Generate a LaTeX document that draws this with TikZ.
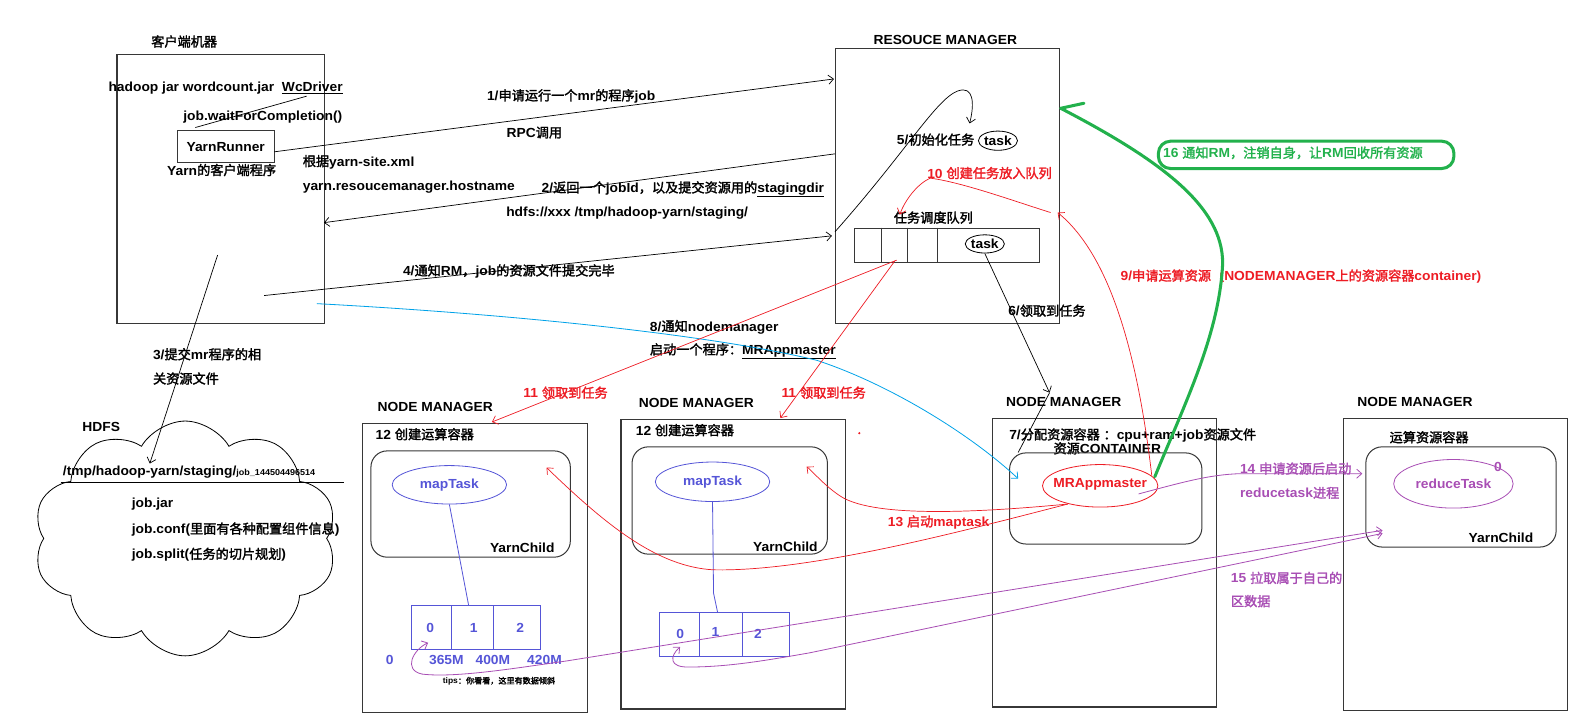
\documentclass[tikz,border=0pt]{standalone}
\usepackage{fontspec}
\setmainfont{Liberation Sans}[FakeStretch=1.05]
\newfontfamily\cjkfont{Noto Sans CJK SC}[BoldFont={Noto Sans CJK SC}, BoldFeatures={FakeBold=2}]
\usetikzlibrary{shapes.geometric,shapes.symbols,arrows.meta}

% switch to the CJK font for Chinese characters and back for Latin text
\XeTeXinterchartokenstate=1
\newXeTeXintercharclass\cjkclass
\newcount\cjkcnt
\def\setcjkrange#1#2{\cjkcnt=#1\relax
  \loop\XeTeXcharclass\cjkcnt=\cjkclass\advance\cjkcnt by 1\relax
  \ifnum\cjkcnt<#2\relax\repeat}
\setcjkrange{"3000}{"3040}
\setcjkrange{"4E00}{"A000}
\setcjkrange{"FF00}{"FFF0}
\XeTeXinterchartoks 0 \cjkclass = {\cjkfont}
\XeTeXinterchartoks 4095 \cjkclass = {\cjkfont}
\XeTeXinterchartoks \cjkclass 0 = {\rmfamily}
\XeTeXinterchartoks \cjkclass 4095 = {\rmfamily}

\definecolor{pRed}{RGB}{237,28,36}
\definecolor{pGreen}{RGB}{34,177,76}
\definecolor{pBlue}{RGB}{0,162,232}
\definecolor{mBlue}{RGB}{85,85,215}
\definecolor{pPurple}{RGB}{168,78,180}
\definecolor{frame}{RGB}{55,55,55}

\tikzset{
  box/.style={draw=frame, line width=1.1pt, inner sep=0pt, anchor=north west},
  rbox/.style={draw=frame, line width=1pt, rounded corners=16pt, inner sep=0pt, anchor=north west},
  lbl/.style={anchor=west, inner sep=0pt},
  ttl/.style={inner sep=0pt},
  oval/.style={ellipse, draw, line width=0.8pt, inner sep=0pt},
  link/.style={line width=0.7pt},
  arrowend/.style={-{Straight Barb[length=5pt,width=9pt]}},
  twoends/.style={{Straight Barb[length=5pt,width=9pt]}-{Straight Barb[length=5pt,width=9pt]}},
  splitbox/.style={draw=mBlue, line width=0.9pt, inner sep=0pt, anchor=north west}
}

\begin{document}
\begin{tikzpicture}[x=1pt,y=-1pt,font=\bfseries\fontsize{13}{15}\selectfont]
\useasboundingbox (0,0) rectangle (1568,717);

% ---------------- client machine ----------------
\node[ttl] (clientT) at (182,41) {客户端机器};
\node[box, minimum width=205, minimum height=266] (client) at (115,53) {};
\node[lbl] (cmd) at (107,87) {hadoop jar wordcount.jar\ \ \underline{WcDriver}};
\node[lbl] (wait) at (181,116) {job.waitForCompletion()};
\node[draw=frame, line width=1pt, minimum width=96, minimum height=32, inner sep=0pt] (yarnrunner) at (223,145) {YarnRunner};
\node[ttl] (yclient) at (219,168) {Yarn的客户端程序};
\node[lbl] (cfg1) at (299,160) {根据yarn-site.xml};
\node[lbl] (cfg2) at (299,185) {yarn.resoucemanager.hostname};

\coordinate (wcd) at (303,95);
\coordinate (yrtop) at (193,126);
\draw[link] (wcd) -- (yrtop);

% ---------------- resource manager ----------------
\node[ttl] (rmT) at (934,39) {RESOUCE MANAGER};
\node[box, minimum width=221, minimum height=272] (rm) at (825,47) {};
\node[lbl] (t5) at (886,138) {5/初始化任务};
\node[oval, minimum width=36, minimum height=19] (task1) at (986,139) {task};
\node[lbl, text=pRed] (t10) at (916,171) {10 创建任务放入队列};
\node[lbl] (tq) at (883,215) {任务调度队列};
\node[draw=frame, line width=0.9pt, inner sep=0pt, anchor=north west, minimum width=183, minimum height=34] (queue) at (844,225) {};
\draw[frame, line width=0.9pt] (871,225) -- (871,259) (897,225) -- (897,259) (926,225) -- (926,259);
\node[oval, minimum width=36, minimum height=18] (task2) at (973,241) {task};
\node[lbl] (t6) at (996,307) {6/领取到任务};

% ---------------- messages between client and RM ----------------
\node[lbl] (t1) at (481,95) {1/申请运行一个mr的程序job};
\node[ttl] (rpc) at (528,131) {RPC调用};
\node[lbl] (t2) at (535,187) {2/返回一个jobId，以及提交资源用的\underline{stagingdir}};
\node[lbl] (t2b) at (500,211) {hdfs://xxx /tmp/hadoop-yarn/staging/};
\node[lbl] (t4) at (398,268) {4/通知RM，job的资源文件提交完毕};
\node[lbl] (t3a) at (151,350) {3/提交mr程序的相};
\node[lbl] (t3b) at (151,374) {关资源文件};

\coordinate (s1) at (271,150);  \coordinate (e1) at (824,78);
\coordinate (s2) at (825,152);  \coordinate (e2) at (320,220);
\coordinate (s4) at (261,292);  \coordinate (e4) at (822,233);
\coordinate (s3) at (215,252);  \coordinate (e3) at (148,458);
\draw[link, arrowend] (s1) -- (e1);
\draw[link, arrowend] (s2) -- (e2);
\draw[link, arrowend] (s4) -- (e4);
\draw[link, arrowend] (s3) -- (e3);

% step 5: loop into the task
\coordinate (s5) at (825,229);
\coordinate (e5) at (958,122);
\draw[link, arrowend] (s5) .. controls (895,150) and (925,98) .. (946,90)
  .. controls (962,84) and (963,102) .. (e5);

% ---------------- HDFS ----------------
\node[cloud, draw, line width=0.8pt, cloud puffs=10, cloud puff arc=120, aspect=1.3,
      minimum width=300, minimum height=232, inner sep=0pt] (hdfs) at (183,532) {};
\node[ttl] (hdfsT) at (100,422) {HDFS};
\node[lbl] (stg) at (62,466) {/tmp/hadoop-yarn/staging/{\fontsize{8.5}{10}\selectfont job\_144504496514}};
\coordinate (ul1) at (60,477); \coordinate (ul2) at (340,477);
\draw[line width=0.9pt] (ul1) -- (ul2);
\node[lbl] (jar) at (130,498) {job.jar};
\node[lbl] (conf) at (130,523) {job.conf(里面有各种配置组件信息)};
\node[lbl] (split) at (130,548) {job.split(任务的切片规划)};

% ---------------- node manager 1 ----------------
\node[ttl] (nm1T) at (430,402) {NODE MANAGER};
\node[box, minimum width=222, minimum height=285] (nm1) at (358,418) {};
\node[lbl] (nm1c) at (371,429) {12 创建运算容器};
\node[rbox, minimum width=197, minimum height=105] (c1) at (366,445) {};
\node[oval, draw=mBlue, text=mBlue, minimum width=113, minimum height=38] (map1) at (444,479) {mapTask};
\node[ttl] (yc1) at (516,541) {YarnChild};
\node[splitbox, minimum width=128, minimum height=43] (sp1) at (406,598) {};
\draw[mBlue, line width=0.9pt] (446,598) -- (446,641) (488,598) -- (488,641);
\node[ttl, text=mBlue] (sp1a) at (425,620) {0};
\node[ttl, text=mBlue] (sp1b) at (468,620) {1};
\node[ttl, text=mBlue] (sp1c) at (514,620) {2};
\node[ttl, text=mBlue] (off0) at (385,652) {0};
\node[ttl, text=mBlue] (off1) at (441,652) {365M};
\node[ttl, text=mBlue] (off2) at (487,652) {400M};
\node[ttl, text=mBlue] (off3) at (538,652) {420M};
\node[ttl, font=\bfseries\fontsize{8}{9}\selectfont] (tip) at (493,673) {tips：你看看，这里有数据倾斜};
\coordinate (sp1top) at (463,598);
\draw[mBlue, line width=0.8pt] (map1.south) -- (sp1top);

% ---------------- node manager 2 ----------------
\node[ttl] (nm2T) at (688,398) {NODE MANAGER};
\node[box, minimum width=222, minimum height=286] (nm2) at (613,414) {};
\node[lbl] (nm2c) at (628,425) {12 创建运算容器};
\node[rbox, minimum width=193, minimum height=106] (c2) at (624,441) {};
\node[oval, draw=mBlue, text=mBlue, minimum width=113, minimum height=39] (map2) at (704,476) {mapTask};
\node[ttl] (yc2) at (776,540) {YarnChild};
\node[splitbox, minimum width=129, minimum height=43] (sp2) at (651,605) {};
\draw[mBlue, line width=0.9pt] (691,605) -- (691,648) (734,605) -- (734,648);
\node[ttl, text=mBlue] (sp2a) at (672,626) {0};
\node[ttl, text=mBlue] (sp2b) at (707,624) {1};
\node[ttl, text=mBlue] (sp2c) at (749,626) {2};
\coordinate (m2bend) at (705,586);
\coordinate (sp2top) at (709,605);
\draw[mBlue, line width=0.8pt] (map2.south) -- (m2bend) -- (sp2top);
\fill[pRed] (849,428) circle (1.2);

% ---------------- node manager 3 ----------------
\node[ttl] (nm3T) at (1051,397) {NODE MANAGER};
\node[box, minimum width=221, minimum height=285] (nm3) at (980,413) {};
\node[lbl] (t7) at (997,430) {7/分配资源容器 ：cpu+ram+job资源文件};
\node[ttl] (cont) at (1094,443) {资源CONTAINER};
\node[rbox, minimum width=190, minimum height=90] (c3) at (997,447) {};
\node[oval, draw=pRed, minimum width=114, minimum height=42] (mram) at (1087,480) {};
\node[ttl, text=pRed] (mramT) at (1087,479) {MRAppmaster};

% ---------------- node manager 4 ----------------
\node[ttl] (nm4T) at (1398,397) {NODE MANAGER};
\node[box, minimum width=221, minimum height=288] (nm4) at (1327,413) {};
\node[ttl] (rcont) at (1412,432) {运算资源容器};
\node[rbox, minimum width=188, minimum height=99] (c4) at (1349,441) {};
\node[oval, draw=pPurple, text=pPurple, minimum width=118, minimum height=48] (redt) at (1436,478) {reduceTask};
\node[ttl, text=pPurple] (red0) at (1480,461) {0};
\node[ttl] (yc4) at (1483,531) {YarnChild};

% ---------------- labels of the later steps ----------------
\node[lbl] (t8a) at (642,323) {8/通知nodemanager};
\node[lbl] (t8b) at (642,347) {启动一个程序：\underline{MRAppmaster}};
\node[lbl, text=pRed] (t9) at (1107,273) {9/申请运算资源（NODEMANAGER上的资源容器container)};
\node[lbl, text=pRed] (t11a) at (517,388) {11 领取到任务};
\node[lbl, text=pRed] (t11b) at (772,388) {11 领取到任务};
\node[lbl, text=pRed] (t13) at (877,516) {13 启动maptask};
\node[lbl, text=pPurple] (t14a) at (1225,463) {14 申请资源后启动};
\node[lbl, text=pPurple] (t14b) at (1225,487) {reducetask进程};
\node[lbl, text=pPurple] (t15a) at (1216,571) {15 拉取属于自己的};
\node[lbl, text=pPurple] (t15b) at (1216,594) {区数据};
\node[draw=pGreen, line width=3pt, rounded corners=12pt, inner sep=0pt, anchor=north west,
      minimum width=292, minimum height=27] (g16) at (1143,138) {};
\node[lbl, text=pGreen] (t16) at (1149,151) {16 通知RM，注销自身，让RM回收所有资源};

% ---------------- connectors of the later steps ----------------
% 6: the task is taken by a node manager
\coordinate (m6) at (1037,388);
\coordinate (e6) at (1006,447);
\draw[link, arrowend] (task2.south) -- (m6);
\draw[link] (m6) -- (e6);

% 8: start MRAppmaster
\coordinate (s8) at (313,300);
\coordinate (m8) at (807,356);
\coordinate (e8) at (1006,473);
\draw[pBlue, line width=0.8pt, arrowend] (s8) .. controls (500,310) and (700,330) .. (m8)
  .. controls (880,380) and (960,430) .. (e8);

% 9 and 10: request resources, queue the tasks
\coordinate (s9) at (1138,470);
\coordinate (e9) at (1045,210);
\draw[pRed, link, arrowend] (s9) .. controls (1125,360) and (1100,255) .. (e9);
\coordinate (s10) at (1038,210);
\coordinate (k10) at (919,176);
\coordinate (e10) at (889,212);
\draw[pRed, link, arrowend] (s10) .. controls (1000,198) and (950,180) .. (k10)
  .. controls (906,182) and (894,198) .. (e10);

% 11: node managers take tasks from the queue
\coordinate (s11a) at (886,257);  \coordinate (e11a) at (486,417);
\coordinate (s11b) at (884,258);  \coordinate (e11b) at (771,413);
\draw[pRed, link, arrowend] (s11a) -- (e11a);
\draw[pRed, link, arrowend] (s11b) -- (e11b);

% 13: start the map tasks
\coordinate (s13) at (1055,498);
\coordinate (m13a) at (705,563);
\coordinate (e13a) at (540,462);
\coordinate (m13b) at (830,490);
\coordinate (e13b) at (797,461);
\draw[pRed, link, arrowend] (s13) .. controls (950,525) and (800,565) .. (m13a)
  .. controls (650,560) and (600,520) .. (e13a);
\draw[pRed, link, arrowend] (s13) .. controls (950,508) and (860,510) .. (m13b)
  .. controls (815,480) and (805,468) .. (e13b);

% 14: start the reduce task
\coordinate (s14) at (1125,488);
\coordinate (m14) at (1225,468);
\coordinate (e14) at (1346,468);
\draw[pPurple, line width=0.8pt, arrowend] (s14) .. controls (1170,476) and (1195,469) .. (m14) -- (e14);

% 15: the reduce task pulls its partition
\coordinate (s15a) at (423,635);
\coordinate (m15a) at (560,653);
\coordinate (e15a) at (1366,524);
\coordinate (s15b) at (672,639);
\coordinate (m15b) at (800,645);
\coordinate (e15b) at (1366,527);
\draw[pPurple, line width=0.8pt, twoends] (s15a) .. controls (408,642) and (398,662) .. (417,666)
  .. controls (450,670) and (510,660) .. (m15a) -- (e15a);
\draw[pPurple, line width=0.8pt, twoends] (s15b) .. controls (662,648) and (660,660) .. (682,659)
  .. controls (720,659) and (760,652) .. (m15b) -- (e15b);

% 16: unregister from the resource manager
\coordinate (s16) at (1141,471);
\coordinate (m16) at (1208,260);
\coordinate (e16) at (1048,107);
\coordinate (b16) at (1071,102);
\draw[pGreen, line width=3pt, line cap=round, line join=round]
  (s16) .. controls (1170,400) and (1205,330) .. (m16)
  .. controls (1208,205) and (1150,160) .. (e16) -- (b16);

\end{tikzpicture}
\end{document}
